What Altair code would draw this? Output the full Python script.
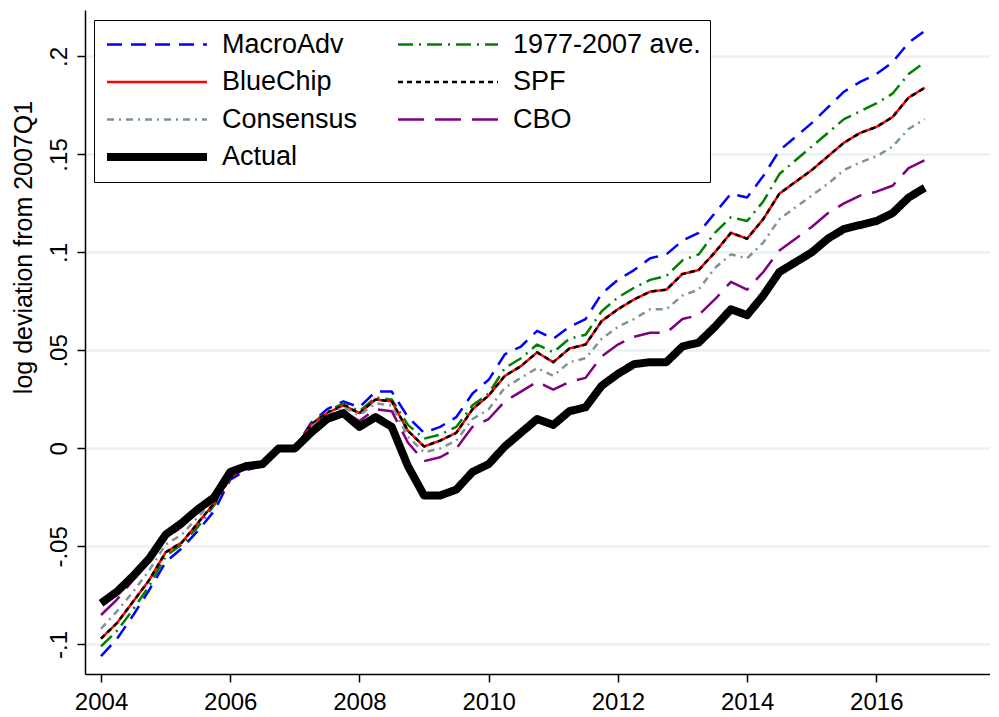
import altair as alt
import pandas as pd

years = list(range(2004, 2017))
quarters = [f"{y}Q{q}" for y in years for q in range(1, 5)]

actual = [-0.079, -0.073, -0.065, -0.056, -0.044, -0.038, -0.031, -0.025, -0.012, -0.009, -0.008, 0.000,
          0.000, 0.008, 0.015, 0.018, 0.011, 0.016, 0.011, -0.009,
          -0.024, -0.024, -0.021, -0.012, -0.008, 0.001, 0.008, 0.015,
          0.012, 0.019, 0.021, 0.032, 0.038, 0.043, 0.044, 0.044,
          0.052, 0.054, 0.062, 0.071, 0.068, 0.078, 0.090, 0.095,
          0.100, 0.107, 0.112, 0.114, 0.116, 0.120, 0.128, 0.133]
macroadv = [-0.106, -0.097, -0.085, -0.072, -0.058, -0.051, -0.042, -0.032, -0.016, -0.011, -0.009, -0.001,
            0.000, 0.013, 0.020, 0.024, 0.021, 0.029, 0.029, 0.016,
            0.008, 0.011, 0.016, 0.028, 0.035, 0.048, 0.052, 0.060,
            0.056, 0.062, 0.066, 0.079, 0.086, 0.091, 0.097, 0.099,
            0.106, 0.110, 0.120, 0.130, 0.128, 0.139, 0.152, 0.159,
            0.166, 0.174, 0.182, 0.187, 0.191, 0.197, 0.207, 0.213]
ave7707 = [-0.101, -0.093, -0.082, -0.070, -0.055, -0.049, -0.040, -0.029, -0.015, -0.010, -0.009, 0.000,
           0.000, 0.012, 0.019, 0.023, 0.019, 0.026, 0.025, 0.012,
           0.005, 0.007, 0.011, 0.022, 0.028, 0.041, 0.046, 0.053,
           0.049, 0.056, 0.058, 0.070, 0.077, 0.082, 0.086, 0.088,
           0.096, 0.099, 0.110, 0.118, 0.116, 0.126, 0.140, 0.147,
           0.154, 0.161, 0.168, 0.172, 0.176, 0.181, 0.191, 0.197]
bluechip = [-0.097, -0.089, -0.078, -0.067, -0.053, -0.048, -0.038, -0.028, -0.015, -0.009, -0.009, 0.000,
            0.000, 0.012, 0.018, 0.022, 0.018, 0.025, 0.024, 0.009,
            0.001, 0.004, 0.008, 0.020, 0.027, 0.037, 0.042, 0.049,
            0.044, 0.051, 0.053, 0.065, 0.071, 0.076, 0.080, 0.081,
            0.089, 0.091, 0.100, 0.110, 0.107, 0.117, 0.130, 0.136,
            0.142, 0.149, 0.156, 0.161, 0.164, 0.169, 0.179, 0.184]
spf = [-0.097, -0.089, -0.078, -0.067, -0.053, -0.048, -0.038, -0.028, -0.015, -0.009, -0.009, 0.000,
       0.000, 0.012, 0.018, 0.022, 0.018, 0.025, 0.024, 0.009,
       0.001, 0.004, 0.008, 0.020, 0.027, 0.037, 0.042, 0.049,
       0.044, 0.051, 0.053, 0.065, 0.071, 0.076, 0.080, 0.081,
       0.089, 0.091, 0.100, 0.110, 0.107, 0.117, 0.130, 0.136,
       0.142, 0.149, 0.156, 0.161, 0.164, 0.169, 0.179, 0.184]
consensus = [-0.092, -0.083, -0.073, -0.062, -0.049, -0.044, -0.035, -0.026, -0.014, -0.009, -0.008, 0.000,
             0.000, 0.011, 0.017, 0.021, 0.017, 0.023, 0.022, 0.006,
             -0.002, 0.000, 0.004, 0.015, 0.020, 0.031, 0.036, 0.041,
             0.037, 0.044, 0.046, 0.056, 0.062, 0.066, 0.071, 0.071,
             0.078, 0.081, 0.092, 0.099, 0.097, 0.105, 0.117, 0.123,
             0.129, 0.135, 0.142, 0.146, 0.149, 0.154, 0.163, 0.168]
cbo = [-0.085, -0.077, -0.067, -0.057, -0.046, -0.040, -0.032, -0.025, -0.011, -0.008, -0.007, 0.000,
       0.000, 0.010, 0.015, 0.019, 0.014, 0.020, 0.019, 0.003,
       -0.0065, -0.0045, 0.000, 0.011, 0.015, 0.024, 0.029, 0.034,
       0.030, 0.034, 0.036, 0.047, 0.053, 0.057, 0.059, 0.059,
       0.066, 0.068, 0.076, 0.085, 0.081, 0.090, 0.101, 0.107,
       0.113, 0.120, 0.125, 0.129, 0.131, 0.134, 0.143, 0.147]

# drawing order (later on top)
draw_order = ["MacroAdv", "1977-2007 ave.", "BlueChip", "SPF", "Consensus", "CBO", "Actual"]
series_values = [macroadv, ave7707, bluechip, spf, consensus, cbo, actual]

# legend order (column-major fill, 2 columns)
legend_order = ["MacroAdv", "BlueChip", "Consensus", "Actual", "1977-2007 ave.", "SPF", "CBO"]
style = {
    "MacroAdv": ("#0000FF", [15, 9], 2.5),
    "BlueChip": ("#FF0000", [1, 0], 2.5),
    "Consensus": ("#7E9590", [7, 5, 2, 5], 2.5),
    "Actual": ("#000000", [1, 0], 8),
    "1977-2007 ave.": ("#008000", [15, 6, 2, 6], 2.5),
    "SPF": ("#000000", [5, 4], 2.5),
    "CBO": ("#800080", [26, 11], 2.5),
}
colors = [style[s][0] for s in legend_order]
dashes = [style[s][1] for s in legend_order]
widths = [style[s][2] for s in legend_order]

rows = []
for name, vals in zip(draw_order, series_values):
    for qlab, v in zip(quarters, vals):
        y, q = int(qlab[:4]), int(qlab[-1])
        rows.append({"t": y + (q - 1) / 4, "quarter": qlab, "value": v, "series": name})
df = pd.DataFrame(rows)

FONT = "Liberation Sans, Arial, Helvetica"

x_enc = alt.X("t:Q", scale=alt.Scale(domain=[2003.752, 2017.76], nice=False, zero=False),
              axis=alt.Axis(values=list(range(2004, 2017, 2)), format="d", title=None,
                            grid=False, tickSize=8, labelFontSize=24, labelPadding=8))
y_enc = alt.Y("value:Q", scale=alt.Scale(domain=[-0.1151, 0.2237], nice=False, zero=False),
              axis=alt.Axis(values=[-0.1, -0.05, 0, 0.05, 0.1, 0.15, 0.2],
                            labelExpr="datum.value == 0 ? '0' : (datum.value < 0 ? '-' : '') + substring(format(abs(datum.value), '.2~f'), 1)",
                            title="log deviation from 2007Q1", titleFontSize=25, titleFontWeight="normal",
                            titleY=237,
                            labelAngle=270, labelAlign="center", labelBaseline="bottom",
                            tickSize=8, labelFontSize=24, labelPadding=6, titlePadding=11,
                            grid=True, gridColor="#EAF2F3", gridWidth=2.5))

color_enc = alt.Color("series:N", scale=alt.Scale(domain=legend_order, range=colors),
                      legend=alt.Legend(title=None, orient="none", legendX=9, legendY=10,
                                        columns=2, symbolType="stroke", symbolSize=10000,
                                        clipHeight=31, labelLimit=400,
                                        labelFontSize=27, labelOffset=11, rowPadding=6.5,
                                        columnPadding=36, padding=9,
                                        strokeColor="black", fillColor="white"))
dash_enc = alt.StrokeDash("series:N", scale=alt.Scale(domain=legend_order, range=dashes))
width_enc = alt.StrokeWidth("series:N", scale=alt.Scale(type="ordinal", domain=legend_order, range=widths))

layers = []
for name in draw_order:
    layers.append(
        alt.Chart(df).transform_filter(alt.datum.series == name).mark_line(strokeJoin="round").encode(
            x=x_enc, y=y_enc, color=color_enc, strokeDash=dash_enc, strokeWidth=width_enc,
            order="t:Q")
    )

chart = alt.layer(*layers).properties(
    width=905, height=664, padding={"left": 3, "top": 2, "right": 0, "bottom": 0}
).configure_view(stroke=None).configure_axis(
    domainColor="black", tickColor="black", domainWidth=1.5, tickWidth=1.5,
    labelColor="black", titleColor="black", labelFont=FONT, titleFont=FONT
).configure_legend(labelFont=FONT, labelColor="black")

chart.save("out.html", embed_options={"renderer": "svg", "actions": False})
